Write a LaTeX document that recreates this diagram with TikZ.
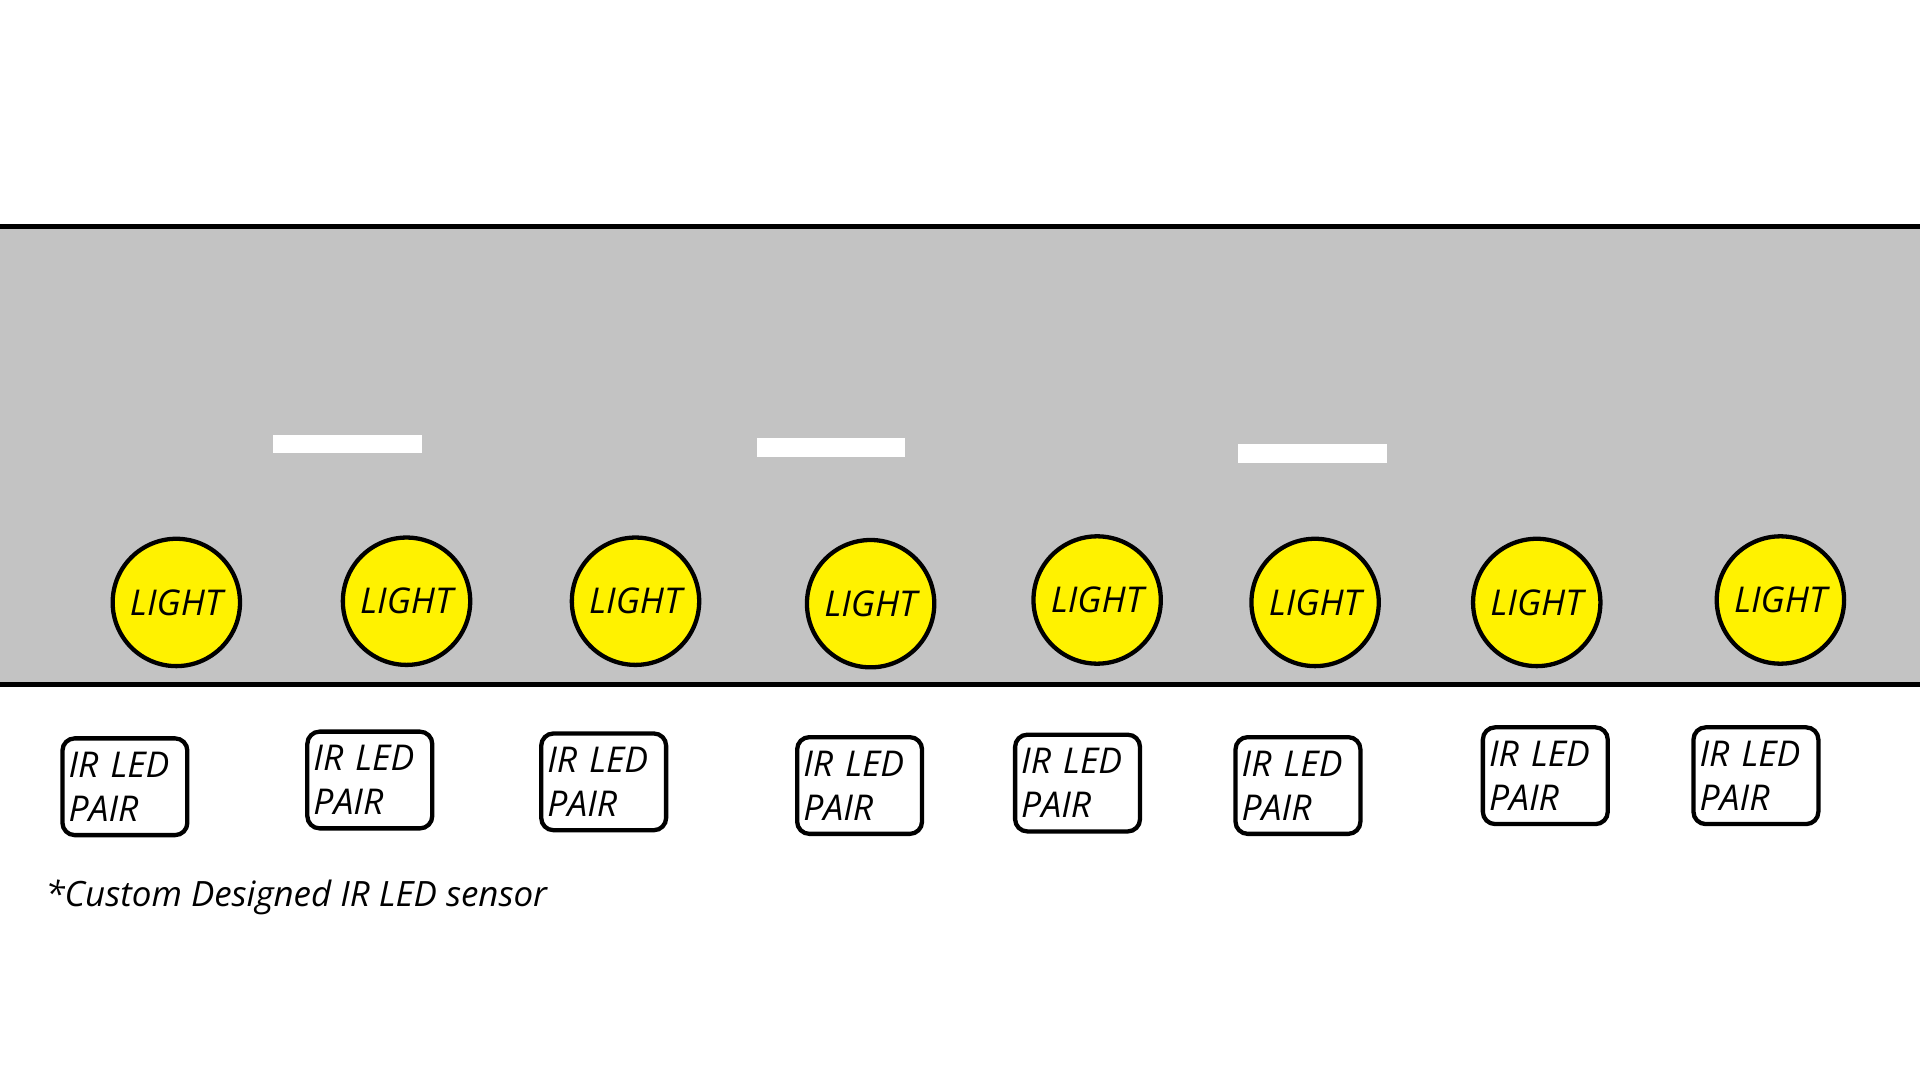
\documentclass[tikz,border=0pt]{standalone}
\usepackage{fontspec}
\setmainfont{Open Sans}
\definecolor{roadgray}{RGB}{195,195,195}
\definecolor{lightyellow}{RGB}{255,242,0}
\begin{document}
\begin{tikzpicture}[x=1pt,y=-1pt,
  lightnode/.style={circle,draw=black,line width=3.5pt,fill=lightyellow,minimum size=104pt,inner sep=0pt,font=\fontsize{29}{32}\selectfont\itshape},
  irbox/.style={rectangle,rounded corners=10pt,draw=black,line width=3.5pt,fill=white,text width=92pt,minimum height=79pt,inner xsep=5pt,inner ysep=4pt,align=left,font=\fontsize{29}{36}\selectfont\itshape},
  roadline/.style={line width=3.5pt,black}]
\useasboundingbox (0,0) rectangle (1568,882);
\fill[white] (0,0) rectangle (1568,882);
\fill[roadgray] (0,185) rectangle (1568,559);
\draw[roadline] (0,185) -- (1568,185);
\draw[roadline] (0,559) -- (1568,559);
\fill[white] (223,355) rectangle (345,370);
\fill[white] (618,358) rectangle (739,373);
\fill[white] (1011,363) rectangle (1133,378);
\node[lightnode] (l1) at (144,492) {LIGHT};
\node[lightnode] (l2) at (332,491) {LIGHT};
\node[lightnode] (l3) at (519,491) {LIGHT};
\node[lightnode] (l4) at (711,493) {LIGHT};
\node[lightnode] (l5) at (896,490) {LIGHT};
\node[lightnode] (l6) at (1074,492) {LIGHT};
\node[lightnode] (l7) at (1255,492) {LIGHT};
\node[lightnode] (l8) at (1454,490) {LIGHT};
\node[irbox] (s1) at (102,642.5) {IR LED\\PAIR};
\node[irbox] (s2) at (302,637) {IR LED\\PAIR};
\node[irbox] (s3) at (493,638.5) {IR LED\\PAIR};
\node[irbox] (s4) at (702,641.5) {IR LED\\PAIR};
\node[irbox] (s5) at (880,639.5) {IR LED\\PAIR};
\node[irbox] (s6) at (1060,641.5) {IR LED\\PAIR};
\node[irbox] (s7) at (1262,633.5) {IR LED\\PAIR};
\node[irbox] (s8) at (1434,633.5) {IR LED\\PAIR};
\node[anchor=west,inner sep=0pt,font=\fontsize{28.5}{30}\selectfont\itshape] (note) at (37,733) {*Custom Designed IR LED sensor};
\end{tikzpicture}
\end{document}
